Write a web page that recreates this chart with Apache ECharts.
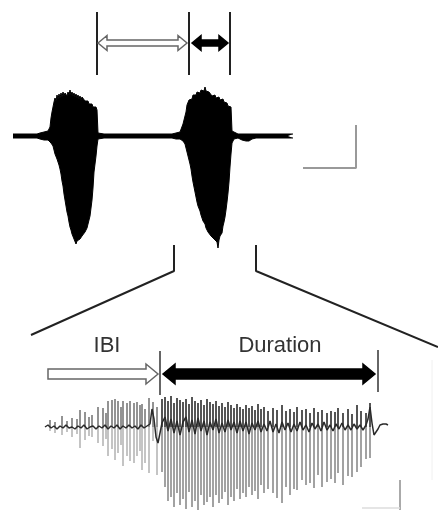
<!DOCTYPE html>
<html><head><meta charset="utf-8">
<script src="https://cdn.jsdelivr.net/npm/echarts@6/dist/echarts.min.js"></script>
<style>html,body{margin:0;padding:0;background:#fff}#c{width:438px;height:510px}</style>
</head><body><div id="c"></div>
<script>
// ---------- TOP PANEL (time in s, amplitude in a.u.) ----------
// [time, upper envelope, lower envelope]
const topTrace = [
 [1.3,2,-2],[1.6,2,-2],[1.9,2,-2],[2.2,2,-2],[2.5,2,-2],[2.8,2,-2],[3.1,2,-2],[3.4,2,-2],[3.7,2,-2],[4.0,3,-3],
 [4.2,3,-3],[4.4,4,-4],[4.6,4,-4],[4.8,5,-4],[5.0,9,-6],[5.1,18,-7],[5.2,24,-9],[5.3,29,-10],[5.4,34,-14],[5.5,38,-18],
 [5.6,35,-20],[5.7,41,-23],[5.8,37,-26],[5.9,42,-29],[6.0,38,-33],[6.1,43,-38],[6.2,39,-45],[6.3,44,-50],[6.4,40,-58],[6.5,43,-64],
 [6.6,45,-70],[6.7,40,-76],[6.8,44,-80],[6.9,41,-86],[7.0,46,-91],[7.1,41,-94],[7.2,44,-98],[7.3,40,-100],[7.4,43,-103],[7.5,39,-104],
 [7.6,42,-108],[7.7,38,-105],[7.8,41,-106],[7.9,37,-104],[8.0,40,-103],[8.1,36,-102],[8.2,39,-100],[8.3,37,-99],[8.4,38,-98],[8.5,35,-96],
 [8.6,36,-95],[8.7,33,-92],[8.8,35,-90],[8.9,32,-84],[9.0,34,-80],[9.1,31,-72],[9.2,32,-64],[9.3,29,-52],[9.4,31,-36],[9.5,28,-28],
 [9.6,29,-20],[9.7,26,-10],[9.8,3,-3],[10.0,2,-2],[10.4,2,-2],[10.8,2,-2],[11.2,2,-2],[11.6,2,-2],[12.0,2,-2],[12.4,2,-2],
 [12.8,2,-2],[13.2,2,-2],[13.6,2,-2],[14.0,2,-2],[14.4,2,-2],[14.8,2,-2],[15.2,2,-2],[15.6,2,-2],[16.0,2,-2],[16.4,2,-2],
 [16.8,2,-2],[17.2,2,-2],[17.6,3,-3],[17.8,3,-3],[18.0,4,-3],[18.2,6,-4],[18.3,12,-5],[18.4,16,-6],[18.5,20,-8],[18.6,24,-12],
 [18.7,31,-16],[18.8,32,-20],[18.9,36,-24],[19.0,35,-28],[19.1,38,-33],[19.2,37,-40],[19.3,41,-46],[19.4,39,-51],[19.5,42,-56],[19.6,41,-61],
 [19.7,44,-66],[19.8,42,-70],[19.9,45,-72],[20.0,43,-75],[20.1,46,-79],[20.2,44,-82],[20.3,47,-85],[20.4,45,-87],[20.5,49,-88],[20.6,45,-92],
 [20.7,46,-94],[20.8,43,-96],[20.9,44,-98],[21.0,42,-97],[21.1,43,-100],[21.2,40,-101],[21.3,42,-100],[21.4,39,-103],[21.5,41,-101],[21.6,38,-104],
 [21.7,40,-106],[21.8,37,-112],[21.9,39,-104],[22.0,36,-100],[22.1,38,-99],[22.2,35,-97],[22.3,37,-90],[22.4,34,-86],[22.5,35,-81],[22.6,32,-74],
 [22.7,33,-66],[22.8,30,-57],[22.9,31,-46],[23.0,28,-31],[23.1,29,-18],[23.2,5,-7],[23.4,3,-3],[23.8,2,-2],[24.2,2,-4],[24.6,2,-5],
 [24.9,2,-5],[25.2,2,-3],[25.6,2,-2],[26.0,2,-2],[26.4,2,-2],[26.8,2,-2],[27.2,2,-2],[27.6,2,-2],[28.0,2,-2],[28.4,2,-2],
 [28.8,2,-2],[29.3,2,-2]
];
// vertical markers [t1, v1, t2, v2]
const topMarkers = [[9.7,124,9.7,61],[18.9,124,18.9,61],[23.0,124,23.0,61]];
// arrows [tStart, v, tEnd, doubleHeaded]
const topArrowOpen = [[9.8,93,18.7,1]];
const topArrowSolid = [[19.2,93,22.8,1]];
// zoom guide lines
const zoomLeft = [[17.4,-109],[17.4,-135],[3.1,-199]];
const zoomRight = [[25.6,-109],[25.6,-135],[43.8,-211]];
// scale bar
const topScaleBar = [[30.3,-32],[35.6,-32],[35.6,11]];

// ---------- BOTTOM PANEL (expanded burst) ----------
// spikes [time, up, down]
const ibiSpikes = [
 [1.00,7,-4],[1.10,5,-6],[1.24,11,-8],[1.34,6,-5],[1.44,9,-10],[1.54,8,-7],[1.60,17,-21],[1.70,15,-13],[1.78,10,-9],[1.84,12,-10],
 [1.96,20,-16],[2.06,19,-19],[2.12,14,-12],[2.16,26,-29],[2.24,27,-22],[2.30,28,-33],[2.36,26,-26],[2.42,20,-18],[2.46,26,-39],[2.54,24,-29],
 [2.60,26,-34],[2.68,24,-36],[2.74,25,-29],[2.80,22,-24],[2.84,23,-43],[2.90,18,-36],[2.98,29,-46],[3.06,25,-14],[3.14,20,-48]
];
const burstSpikes = [
 [3.24,28,-45],[3.30,30,-60],[3.36,26,-74],[3.42,31,-70],[3.48,24,-80],[3.54,29,-66],[3.60,27,-78],[3.66,25,-72],[3.72,28,-82],[3.78,23,-65],
 [3.84,30,-80],[3.90,26,-74],[3.96,24,-83],[4.02,27,-68],[4.08,22,-78],[4.14,28,-75],[4.20,25,-70],[4.26,23,-80],[4.32,26,-68],[4.38,21,-76],
 [4.44,24,-72],[4.50,20,-65],[4.56,25,-78],[4.62,22,-70],[4.68,19,-74],[4.74,23,-62],[4.80,20,-72],[4.86,18,-66],[4.92,22,-70],[4.98,19,-60],
 [5.04,21,-68],[5.10,17,-64],[5.16,23,-72],[5.22,18,-58],[5.28,20,-66],[5.36,16,-62],[5.46,19,-66],[5.54,17,-71],[5.64,22,-76],[5.72,16,-60],
 [5.80,18,-68],[5.88,15,-62],[5.94,20,-63],[6.04,17,-53],[6.12,18,-58],[6.20,14,-56],[6.28,19,-61],[6.36,15,-48],[6.44,17,-60],[6.54,14,-55],
 [6.62,16,-52],[6.70,15,-56],[6.76,19,-46],[6.86,14,-58],[6.96,18,-49],[7.04,13,-50],[7.14,22,-45],[7.22,16,-40],[7.32,14,-32],[7.40,24,-31]
];
// baseline trace [time, value]
const bottomBase = [
 [0.90,0],[0.96,2],[1.02,-1],[1.08,1],[1.14,-2],[1.20,1],[1.26,-1],[1.32,2],[1.38,-1],[1.44,0],
 [1.50,-2],[1.56,1],[1.62,-1],[1.68,2],[1.74,-2],[1.80,0],[1.86,1],[1.92,-2],[1.98,1],[2.04,-1],
 [2.10,2],[2.16,-2],[2.22,1],[2.28,-1],[2.34,2],[2.40,-2],[2.46,1],[2.52,-1],[2.58,2],[2.64,-1],
 [2.70,1],[2.76,-2],[2.82,2],[2.88,-1],[2.94,1],[3.00,3],[3.04,18],[3.08,8],[3.12,-10],[3.16,-16],
 [3.20,-6],[3.24,4],[3.30,10],[3.36,-4],[3.42,8],[3.48,-6],[3.54,6],[3.60,-8],[3.66,5],[3.72,10],
 [3.78,-5],[3.84,7],[3.90,-7],[3.96,9],[4.02,-4],[4.08,6],[4.14,-8],[4.20,5],[4.26,-3],[4.32,8],
 [4.38,-6],[4.44,4],[4.50,-5],[4.56,7],[4.62,-3],[4.68,5],[4.74,-6],[4.80,6],[4.86,-4],[4.92,5],
 [4.98,-7],[5.04,4],[5.10,-3],[5.16,6],[5.22,-5],[5.28,3],[5.34,-4],[5.40,6],[5.46,-5],[5.52,3],
 [5.58,-6],[5.64,5],[5.70,-3],[5.76,4],[5.82,-5],[5.88,3],[5.94,-4],[6.00,5],[6.06,-3],[6.12,2],
 [6.18,-5],[6.24,4],[6.30,-2],[6.36,3],[6.42,-4],[6.48,5],[6.54,-3],[6.60,2],[6.66,-4],[6.72,3],
 [6.78,-2],[6.84,4],[6.90,-3],[6.96,2],[7.02,-3],[7.08,3],[7.14,-2],[7.20,2],[7.26,-3],[7.32,2],
 [7.36,8],[7.40,20],[7.44,4],[7.48,-8],[7.52,-6],[7.56,-2],[7.60,2],[7.66,3],[7.72,3],[7.76,2]
];
const bottomMarkers = [[3.20,76,3.20,32],[7.56,77,7.56,35]];
const bottomArrowOpen = [[0.96,53,3.16,0]];
const bottomArrowSolid = [[3.26,53,7.50,1]];
const labelNames = ['IBI','Duration'];
const labelPos = [[2.14,81],[5.60,81]];
const bottomScaleV = [[8.0,-53],[8.0,-83]];
const bottomScaleH = [[7.24,-81],[8.0,-81]];
const faintEdge = [[8.64,67],[8.64,-53]];

// ---------- helpers ----------
function segSeries(g, data, color, width, z) {
  return {type:'custom', xAxisIndex:g, yAxisIndex:g, data, z:z||4, silent:true,
    renderItem(p, api){
      const a = api.coord([api.value(0), api.value(1)]);
      const b = api.coord([api.value(2), api.value(3)]);
      return {type:'line', shape:{x1:a[0],y1:a[1],x2:b[0],y2:b[1]}, style:{stroke:color, lineWidth:width}};
    }};
}
function polySeries(g, data, color, width, z) {
  return {type:'line', xAxisIndex:g, yAxisIndex:g, data, symbol:'none', silent:true, z:z||4,
    lineStyle:{color, width}, animation:false};
}
function arrowSeries(g, data, fill, stroke, h, H, L) {
  return {type:'custom', xAxisIndex:g, yAxisIndex:g, data, z:6, silent:true,
    renderItem(p, api){
      const a = api.coord([api.value(0), api.value(1)]);
      const b = api.coord([api.value(2), api.value(1)]);
      const y = a[1], sx = a[0], ex = b[0];
      let pts;
      if (api.value(3) === 1) {
        pts = [[sx,y],[sx+L,y-H],[sx+L,y-h],[ex-L,y-h],[ex-L,y-H],[ex,y],[ex-L,y+H],[ex-L,y+h],[sx+L,y+h],[sx+L,y+H]];
      } else {
        pts = [[sx,y-h],[ex-L,y-h],[ex-L,y-H],[ex,y],[ex-L,y+H],[ex-L,y+h],[sx,y+h]];
      }
      return {type:'polygon', shape:{points:pts}, style:{fill, stroke, lineWidth:1.5, lineJoin:'miter'}};
    }};
}
function spikeSeries(g, data, upColor, downColor, w) {
  return {type:'custom', xAxisIndex:g, yAxisIndex:g, data, z:2, silent:true,
    renderItem(p, api){
      const o = api.coord([api.value(0), 0]);
      const u = api.coord([api.value(0), api.value(1)]);
      const d = api.coord([api.value(0), api.value(2)]);
      return {type:'group', children:[
        {type:'line', shape:{x1:o[0],y1:o[1],x2:d[0],y2:d[1]}, style:{stroke:downColor, lineWidth:w}},
        {type:'line', shape:{x1:o[0],y1:o[1],x2:u[0],y2:u[1]}, style:{stroke:upColor, lineWidth:w}}
      ]};
    }};
}

const chart = echarts.init(document.getElementById('c'), null, {renderer:'canvas'});
chart.setOption({
  animation:false,
  backgroundColor:'#ffffff',
  grid:[{left:0,right:0,top:0,bottom:0},{left:0,right:0,top:0,bottom:0}],
  xAxis:[{gridIndex:0,type:'value',min:0,max:43.8,show:false},
         {gridIndex:1,type:'value',min:0,max:8.76,show:false}],
  yAxis:[{gridIndex:0,type:'value',min:-374,max:136,show:false},
         {gridIndex:1,type:'value',min:-83,max:427,show:false}],
  series:[
    {type:'line', xAxisIndex:0, yAxisIndex:0, data:topTrace.map(r=>[r[0],r[1]]), symbol:'none', silent:true,
      lineStyle:{color:'#000',width:1}, areaStyle:{color:'#000',opacity:1}, z:3},
    {type:'line', xAxisIndex:0, yAxisIndex:0, data:topTrace.map(r=>[r[0],r[2]]), symbol:'none', silent:true,
      lineStyle:{color:'#000',width:1}, areaStyle:{color:'#000',opacity:1}, z:3},
    segSeries(0, topMarkers, '#222', 2),
    arrowSeries(0, topArrowOpen, '#fff', '#666', 3, 7.5, 9),
    arrowSeries(0, topArrowSolid, '#000', '#000', 3, 7.5, 9),
    polySeries(0, zoomLeft, '#222', 2),
    polySeries(0, zoomRight, '#222', 2),
    polySeries(0, topScaleBar, '#999', 2),

    spikeSeries(1, ibiSpikes, '#6f6f6f', '#b0b0b0', 1.5),
    spikeSeries(1, burstSpikes, '#555', '#a2a2a2', 2),
    {type:'line', xAxisIndex:1, yAxisIndex:1, data:bottomBase, symbol:'none', silent:true,
      lineStyle:{color:'#2a2a2a',width:1.5}, z:3},
    segSeries(1, bottomMarkers, '#666', 2),
    arrowSeries(1, bottomArrowOpen, '#fff', '#666', 5, 10, 12),
    arrowSeries(1, bottomArrowSolid, '#000', '#000', 5, 10, 12),
    polySeries(1, bottomScaleV, '#aaa', 2),
    polySeries(1, bottomScaleH, '#ddd', 1.5),
    polySeries(1, faintEdge, '#f0f0f0', 1),
    {type:'custom', xAxisIndex:1, yAxisIndex:1, data:labelPos, z:7, silent:true,
      renderItem(p, api){
        const c = api.coord([api.value(0), api.value(1)]);
        return {type:'text', x:c[0], y:c[1], style:{text:labelNames[p.dataIndex], fontSize:22,
          fontFamily:'"Liberation Sans", Arial, sans-serif', fill:'#333', align:'center', verticalAlign:'middle'}};
      }}
  ]
});
</script>
</body></html>
